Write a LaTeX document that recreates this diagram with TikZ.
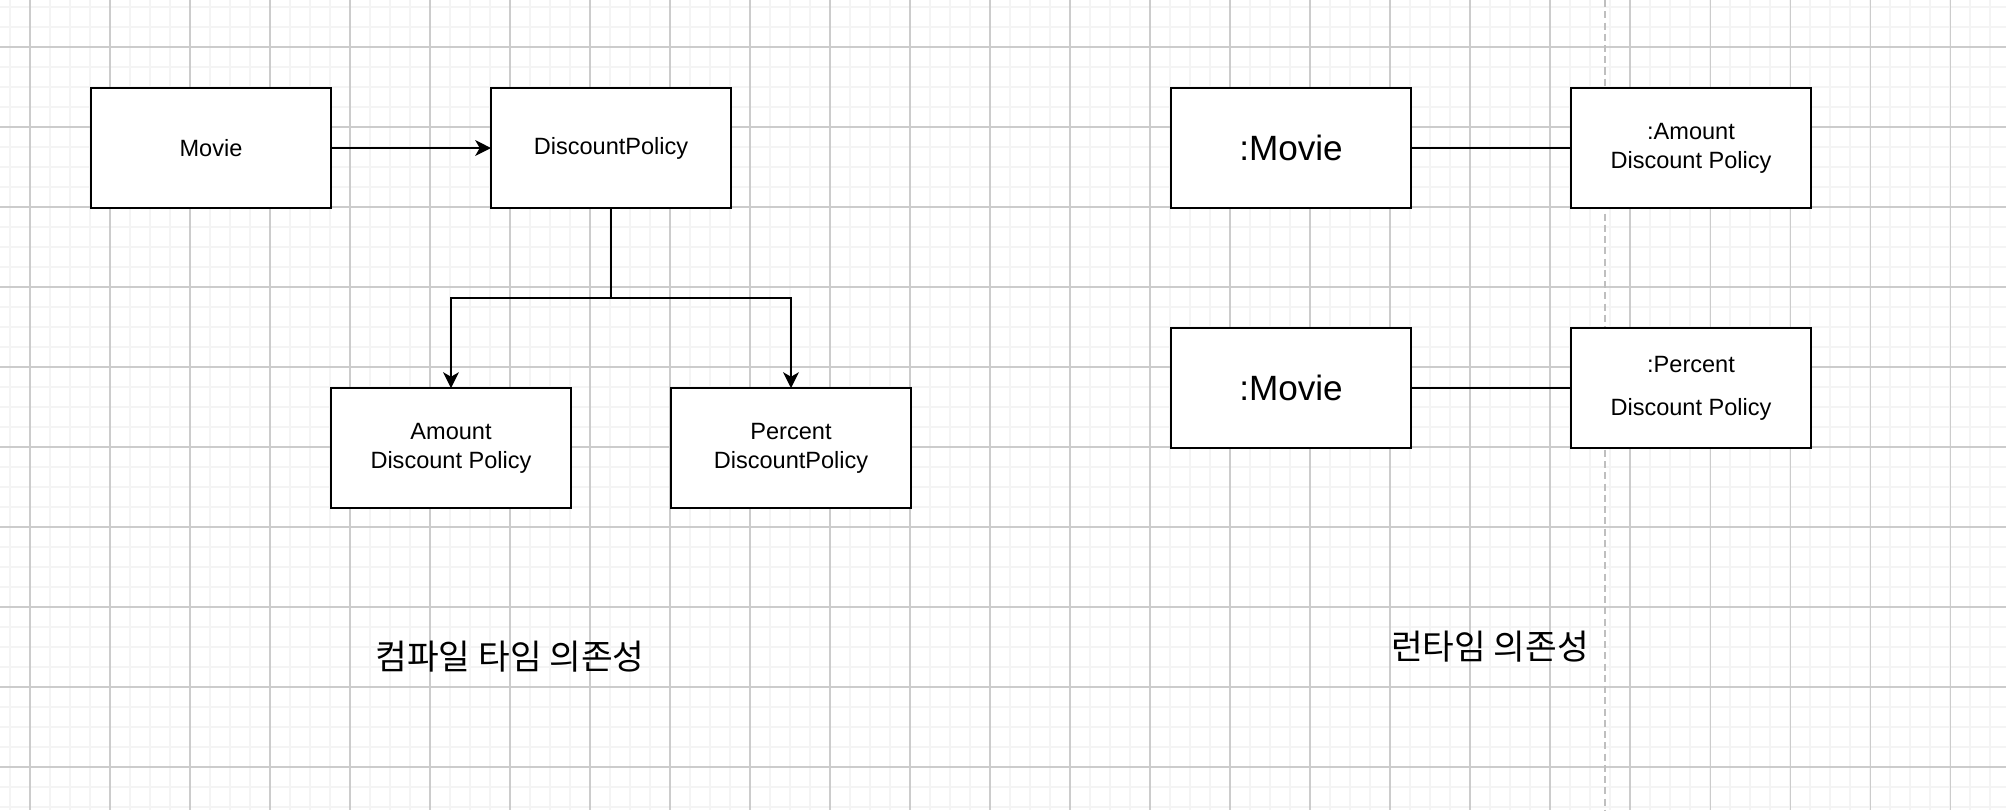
\documentclass[tikz,border=0pt]{standalone}
\usepackage{fontspec}
\setmainfont{Liberation Sans}
\newfontfamily\kfont{Noto Sans CJK KR}
\usetikzlibrary{arrows.meta}

\begin{document}
\begin{tikzpicture}[auto,
          minorgrid/.style={gray!9, line width=0.4pt},
          majorgrid/.style={gray!40, line width=0.3pt},
          cls/.style={draw, line width=0.4pt, fill=white, minimum width=2.4cm, minimum height=1.2cm,
                      inner sep=0pt, outer sep=0pt, align=center, font=\fontsize{6.7}{8.3}\selectfont},
          obj/.style={cls, font=\fontsize{10}{12}\selectfont},
          dep/.style={line width=0.4pt, -{Stealth[length=4.5pt, width=4.5pt, inset=1.3pt]}},
          link/.style={line width=0.4pt},
          title/.style={font=\kfont\fontsize{9.8}{12}\selectfont}]
          \useasboundingbox (0,0) rectangle (20.06,-8.10);
          \fill[white] (0,0) rectangle (20.06,-8.10);

          \foreach \i in {0,...,99} \draw[minorgrid] (0.1+0.2*\i,0) -- (0.1+0.2*\i,-8.10);
          \foreach \j in {0,...,40} \draw[minorgrid] (0,-0.07-0.2*\j) -- (20.06,-0.07-0.2*\j);
          \foreach \i in {0,...,24} \draw[majorgrid] (0.3+0.8*\i,0) -- (0.3+0.8*\i,-8.10);
          \foreach \j in {0,...,9} \draw[majorgrid] (0,-0.47-0.8*\j) -- (20.06,-0.47-0.8*\j);

          \coordinate (sepTop) at (16.05,0);
          \coordinate (sepBot) at (16.05,-8.10);
          \draw[gray!50, line width=0.45pt, dash pattern=on 2pt off 1.2pt] (sepTop) -- (sepBot);

          \node[cls] (mv) at (2.11,-1.48) {Movie};
          \node[cls] (dp) at (6.11,-1.48) {DiscountPolicy};
          \node[cls] (adp) at (4.51,-4.48) {Amount\\Discount Policy};
          \node[cls] (pdp) at (7.91,-4.48) {Percent\\DiscountPolicy};
          \node[title] (ctime) at (5.10,-6.57) {컴파일 타임 의존성};

          \draw[dep] (mv) to (dp);
          \draw[dep] (dp.south) -- ++(0,-0.9) -| (adp.north);
          \draw[dep] (dp.south) -- ++(0,-0.9) -| (pdp.north);

          \node[obj] (rmv) at (12.91,-1.48) {:Movie};
          \node[cls] (radp) at (16.91,-1.48) {:Amount\\Discount Policy};
          \node[obj] (rmvb) at (12.91,-3.88) {:Movie};
          \node[cls] (rpdp) at (16.91,-3.88) {:Percent\\[3.9pt]Discount Policy};
          \node[title] (rtime) at (14.90,-6.47) {런타임 의존성};

          \draw[link] (rmv) to (radp);
          \draw[link] (rmvb) to (rpdp);
\end{tikzpicture}
\end{document}
